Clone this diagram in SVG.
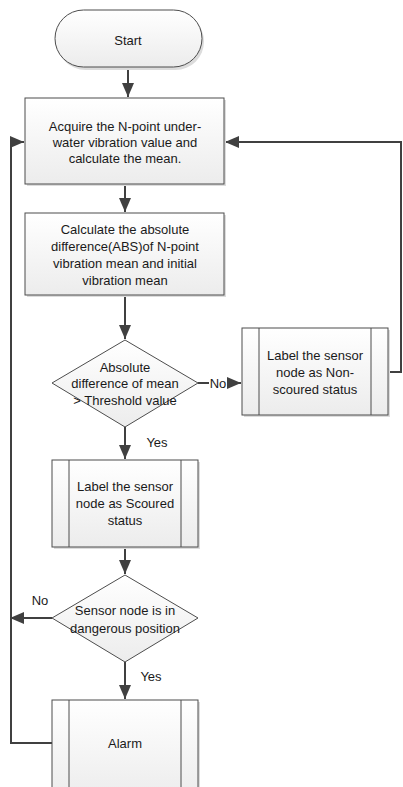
<svg xmlns="http://www.w3.org/2000/svg" width="403" height="787" viewBox="0 0 403 787">
  <style>
    .shape { fill: url(#boxFill); stroke: #4d4d4d; stroke-width: 1; }
    .shadow { fill: #dcdcdc; }
    .inner { stroke: #4d4d4d; stroke-width: 1; fill: none; }
    .wire { fill: none; stroke: #404040; stroke-width: 2; }
    text { font-family: "Liberation Sans", Arial, sans-serif; font-size: 13px; fill: #1a1a1a; text-anchor: middle; }
  </style>
  <defs>
    <linearGradient id="boxFill" x1="0" y1="0" x2="0" y2="1">
      <stop offset="0" stop-color="#ffffff"/>
      <stop offset="1" stop-color="#ececec"/>
    </linearGradient>
    <marker id="head" viewBox="0 0 14 12" refX="14" refY="6" markerWidth="14" markerHeight="12" markerUnits="userSpaceOnUse" orient="auto">
      <path d="M0,0 L14,6 L0,12 Z" fill="#404040"/>
    </marker>
  </defs>

  <rect width="403" height="787" fill="#ffffff"/>

  <!-- connectors -->
  <g id="connectors">
    <path class="wire" d="M128,67 V97" marker-end="url(#head)"/>
    <path class="wire" d="M125,184 V212" marker-end="url(#head)"/>
    <path class="wire" d="M125,295 V339" marker-end="url(#head)"/>
    <path class="wire" d="M198,383 H209" stroke-width="1.5"/>
    <path class="wire" d="M228,383 H241" marker-end="url(#head)"/>
    <path class="wire" d="M388,372 H401 V142 H225" marker-end="url(#head)"/>
    <path class="wire" d="M125,427 V459" marker-end="url(#head)"/>
    <path class="wire" d="M125,547 V574" marker-end="url(#head)"/>
    <path class="wire" d="M52,618 H10" marker-end="url(#head)"/>
    <path class="wire" d="M125,662 V699" marker-end="url(#head)"/>
    <path class="wire" d="M52,743 H11 V142 H24" marker-end="url(#head)"/>
    <text x="218" y="388">No</text>
    <text x="157" y="447">Yes</text>
    <text x="40" y="605">No</text>
    <text x="151" y="681">Yes</text>
  </g>

  <g id="start">
    <rect class="shadow" x="57" y="13" width="147" height="57" rx="28.5"/>
    <rect class="shape" x="55" y="10" width="147" height="57" rx="28.5"/>
    <text x="128" y="45">Start</text>
  </g>

  <g id="acquire">
    <rect class="shadow" x="27" y="100" width="199" height="86"/>
    <rect class="shape" x="25" y="98" width="199" height="86"/>
    <text x="125" y="131">Acquire the N-point under-</text>
    <text x="125" y="147">water vibration value and</text>
    <text x="125" y="163">calculate the mean.</text>
  </g>

  <g id="difference">
    <rect class="shadow" x="27" y="215" width="199" height="82"/>
    <rect class="shape" x="25" y="213" width="199" height="82"/>
    <text x="125" y="234">Calculate the absolute</text>
    <text x="125" y="251">difference(ABS)of N-point</text>
    <text x="125" y="268">vibration mean and initial</text>
    <text x="125" y="285">vibration mean</text>
  </g>

  <g id="threshold">
    <path class="shape" d="M125,340 L198,383 L125,427 L52,383 Z"/>
    <text x="125" y="372">Absolute</text>
    <text x="125" y="388">difference of mean</text>
    <text x="125" y="405">&gt; Threshold value</text>
  </g>

  <g id="nonScoured">
    <rect class="shadow" x="244" y="330" width="146" height="87"/>
    <rect class="shape" x="242" y="328" width="146" height="87"/>
    <path class="inner" d="M259,328 V415 M371,328 V415"/>
    <text x="315" y="360">Label the sensor</text>
    <text x="315" y="377">node as Non-</text>
    <text x="315" y="394">scoured status</text>
  </g>

  <g id="scoured">
    <rect class="shadow" x="54" y="462" width="146" height="87"/>
    <rect class="shape" x="52" y="460" width="146" height="87"/>
    <path class="inner" d="M69,460 V547 M181,460 V547"/>
    <text x="125" y="491">Label the sensor</text>
    <text x="125" y="508">node as Scoured</text>
    <text x="125" y="525">status</text>
  </g>

  <g id="danger">
    <path class="shape" d="M125,575 L198,618 L125,662 L52,618 Z"/>
    <text x="125" y="615">Sensor node is in</text>
    <text x="125" y="633">dangerous position</text>
  </g>

  <g id="alarm">
    <rect class="shadow" x="54" y="702" width="146" height="100"/>
    <rect class="shape" x="52" y="700" width="146" height="100"/>
    <path class="inner" d="M69,700 V800 M181,700 V800"/>
    <text x="125" y="748">Alarm</text>
  </g>
</svg>
